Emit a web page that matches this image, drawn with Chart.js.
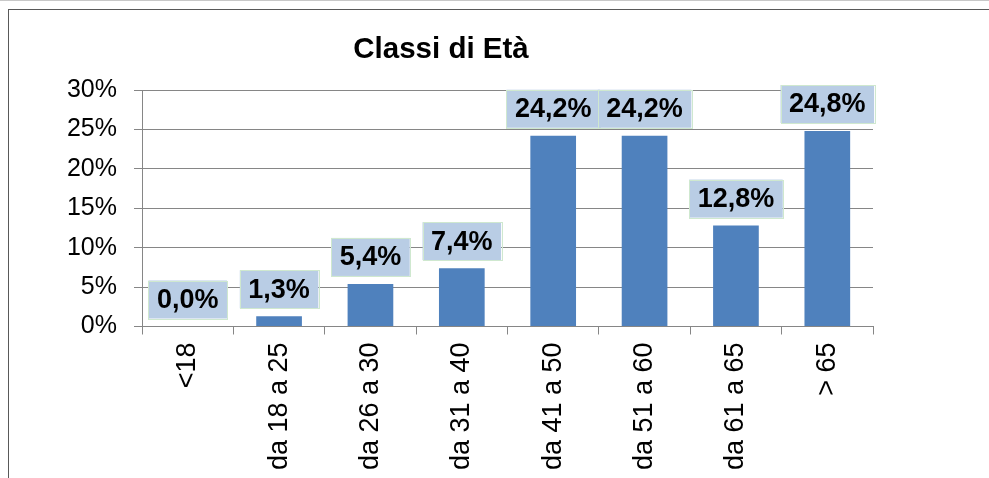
<!DOCTYPE html>
<html>
<head>
<meta charset="utf-8">
<script src="https://cdn.jsdelivr.net/npm/chart.js@4/dist/chart.umd.min.js"></script>
<style>
  html, body { margin: 0; padding: 0; background: #fff; }
  #wrap { position: relative; width: 989px; height: 478px; overflow: hidden; }
  #topLine { position: absolute; left: 0; top: 0; width: 989px; height: 1px; background: #c8c8c8; }
  #frame { position: absolute; left: 8px; top: 9px; width: 990px; height: 480px;
           border-top: 1px solid #595959; border-left: 1px solid #595959; }
  canvas { position: absolute; left: 0; top: 0; }
</style>
</head>
<body>
<div id="wrap">
  <div id="topLine"></div>
  <div id="frame"></div>
  <canvas id="chart" width="989" height="478"></canvas>
</div>
<script>
// chart data
const chartTitle = 'Classi di Età';
const categories = ['<18', 'da 18 a 25', 'da 26 a 30', 'da 31 a 40', 'da 41 a 50', 'da 51 a 60', 'da 61 a 65', '> 65'];
const percentValues = [0.0, 1.3, 5.4, 7.4, 24.2, 24.2, 12.8, 24.8];
const yTicks = [0, 5, 10, 15, 20, 25, 30];

const FONT = '"Liberation Sans", Arial, sans-serif';

// value boxes above each bar
const valueBoxes = {
    id: 'valueBoxes',
    afterDatasetsDraw(chart) {
        const ctx = chart.ctx;
        const meta = chart.getDatasetMeta(0);
        ctx.save();
        ctx.font = 'bold 27px ' + FONT;
        ctx.textAlign = 'center';
        ctx.textBaseline = 'middle';
        meta.data.forEach((bar, i) => {
            const txt = percentValues[i].toFixed(1).replace('.', ',') + '%';
            const w = ctx.measureText(txt).width + 17;
            const h = 38;
            const bottom = bar.y - 8;
            ctx.fillStyle = '#b9cde5';
            ctx.fillRect(bar.x - w / 2, bottom - h, w, h);
            ctx.strokeStyle = '#cfe8cf';
            ctx.lineWidth = 1;
            ctx.strokeRect(Math.round(bar.x - w / 2) + 0.5, Math.round(bottom - h) + 0.5, Math.round(w), h);
            ctx.fillStyle = '#000';
            ctx.fillText(txt, bar.x, bottom - h / 2 + 1);
        });
        ctx.restore();
    }
};

// title placed like the original (not centred on the plot)
const titlePlugin = {
    id: 'titleText',
    afterDraw(chart) {
        const ctx = chart.ctx;
        ctx.save();
        ctx.font = 'bold 29.5px ' + FONT;
        ctx.fillStyle = '#000';
        ctx.textAlign = 'center';
        ctx.textBaseline = 'alphabetic';
        ctx.fillText(chartTitle, 441, 58);
        ctx.restore();
    }
};

new Chart(document.getElementById('chart'), {
    type: 'bar',
    data: {
        labels: categories,
        datasets: [{
            data: percentValues,
            backgroundColor: '#4f81bd',
            categoryPercentage: 1.0,
            barPercentage: 0.5
        }]
    },
    options: {
        responsive: false,
        animation: false,
        layout: { padding: { top: 90, left: 10, right: 116, bottom: 0 } },
        plugins: { legend: { display: false }, tooltip: { enabled: false }, title: { display: false } },
        scales: {
            x: {
                offset: true,
                grid: { display: true, drawOnChartArea: false, drawTicks: true, tickLength: 8, color: '#868686' },
                border: { color: '#868686' },
                ticks: {
                    autoSkip: false, minRotation: 90, maxRotation: 90, padding: 8,
                    color: '#000', font: { family: FONT, size: 27 }
                },
                afterFit(scale) { scale.height = 151.5; }
            },
            y: {
                min: 0, max: 30,
                afterBuildTicks(scale) { scale.ticks = yTicks.map(v => ({ value: v })); },
                grid: { color: '#868686', tickLength: 8 },
                border: { color: '#868686' },
                ticks: {
                    padding: 17, color: '#000', font: { family: FONT, size: 25 },
                    callback: v => v + '%'
                },
                afterFit(scale) { scale.width = 132; }
            }
        }
    },
    plugins: [valueBoxes, titlePlugin]
});
</script>
</body>
</html>
